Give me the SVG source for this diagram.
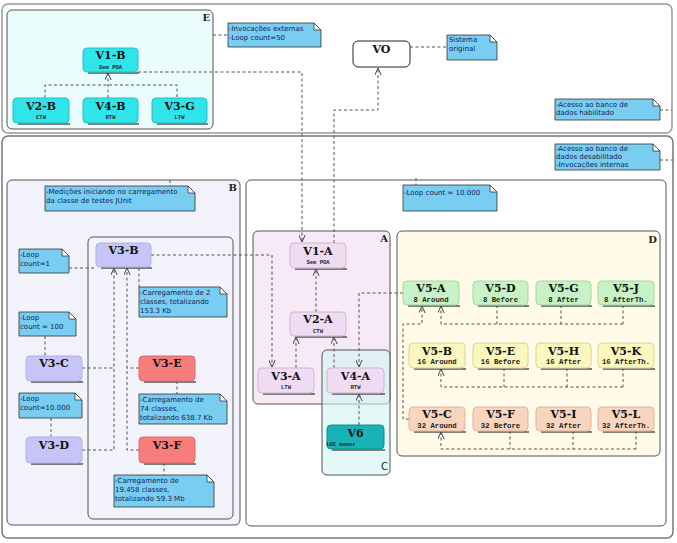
<svg xmlns="http://www.w3.org/2000/svg" width="677" height="543" viewBox="0 0 677 543">
<defs>
<marker id="ar" viewBox="0 0 10 10" refX="10" refY="5" markerWidth="7" markerHeight="7" markerUnits="userSpaceOnUse" orient="auto"><path d="M0,0.5 L10,5 L0,9.5" fill="none" stroke="#444" stroke-width="1.4"/></marker>
<style>
.pk{stroke:#555;stroke-width:1}
.pl{font-family:"DejaVu Serif",serif;font-weight:bold;font-size:10px;fill:#222;text-anchor:end}
.t{font-family:"DejaVu Serif",serif;font-weight:bold;font-size:11px;text-anchor:middle;fill:#111}
.s{font-family:"Liberation Mono",monospace;font-weight:bold;font-size:7.3px;text-anchor:middle;fill:#222}
.ss{font-family:"Liberation Mono",monospace;font-weight:bold;font-size:5.5px;text-anchor:middle;fill:#222}
.n{font-family:"DejaVu Sans",sans-serif;font-size:7px;fill:#14245a}
.nb{fill:#78cdf0;stroke:#333;stroke-width:0.8}
.nf{fill:#fff;stroke:#333;stroke-width:0.8}
.c{fill:none;stroke:#555;stroke-width:1;stroke-dasharray:3,2.5}
.sh{stroke:#555;stroke-width:1.3}
.cy{fill:#30e5ea;stroke:#25bfc2}
.lv{fill:#c5c5f7;stroke:#b0b0e6}
.rd{fill:#f77c7c;stroke:#e06a6a}
.pa{fill:#f0dcf2;stroke:#cdb6d0}
.tl{fill:#17b3b6;stroke:#0e8f91}
.gr{fill:#c6f2c6;stroke:#a5d6a5}
.yl{fill:#fcf8bd;stroke:#d8d49a}
.or{fill:#f9d5c0;stroke:#dab6a2}
</style>
</defs>

<!-- outer frames -->
<rect x="2" y="4" width="670" height="129" rx="6" fill="#fff" stroke="#999" stroke-width="1.5"/>
<rect x="2" y="136" width="671" height="402" rx="6" fill="#fff" stroke="#777" stroke-width="1.5"/>

<!-- packages -->
<g id="pkgE"><rect class="pk" x="7" y="10" width="206" height="119" rx="5" fill="#eafcfb"/><text class="pl" x="210" y="21">E</text></g>
<g id="pkgB"><rect class="pk" x="7" y="180" width="233" height="345" rx="5" fill="#f2f2fb"/><text class="pl" x="237" y="191">B</text></g>
<g id="pkgB2"><rect class="pk" x="88" y="237" width="145" height="282" rx="5" fill="#f3f3fc"/></g>
<g id="pkgMain"><rect class="pk" x="246" y="180" width="420" height="346" rx="5" fill="#fff"/></g>
<g id="pkgA"><rect class="pk" x="253" y="231" width="137" height="173" rx="5" fill="#f6eaf6"/><text class="pl" x="388" y="242">A</text></g>
<g id="pkgC"><rect class="pk" x="322" y="350" width="68" height="125" rx="5" fill="#d4f3f3" fill-opacity="0.6"/><text class="pl" x="388" y="470" style="font-family:'DejaVu Sans',sans-serif;font-weight:normal">C</text></g>
<g id="pkgD"><rect class="pk" x="397" y="231" width="263" height="225" rx="5" fill="#fffbe8"/><text class="pl" x="657" y="243">D</text></g>

<!-- connectors -->
<g id="connectors">
<path class="c" d="M213,35 H228"/>
<path class="c" d="M138,72 H302 V242" marker-end="url(#ar)"/>
<path class="c" d="M334,243 V110 H378 V68" marker-end="url(#ar)"/>
<path class="c" d="M410,47 H447"/>
<path class="c" d="M660,110 H672"/>
<path class="c" d="M660,160 H673"/>
<path class="c" d="M170,180 V186"/>
<path class="c" d="M416,178 V185"/>
<path class="c" d="M45,98 V85 H177 V98"/>
<path class="c" d="M108,98 V73" marker-end="url(#ar)"/>
<path class="c" d="M151,255 H272 V367" marker-end="url(#ar)"/>
<path class="c" d="M69,268 H96"/>
<path class="c" d="M82,368 H114"/>
<path class="c" d="M82,450 H114 V268" marker-end="url(#ar)"/>
<path class="c" d="M139,368 H127"/>
<path class="c" d="M139,450 H127 V268" marker-end="url(#ar)"/>
<path class="c" d="M139,268 V287"/>
<path class="c" d="M45,336 V356"/>
<path class="c" d="M51,418 V437"/>
<path class="c" d="M177,381 V394"/>
<path class="c" d="M164,463 V475"/>
<path class="c" d="M316,312 V269" marker-end="url(#ar)"/>
<path class="c" d="M296,368 V337" marker-end="url(#ar)"/>
<path class="c" d="M334,368 V337" marker-end="url(#ar)"/>
<path class="c" d="M403,293 H359 V367" marker-end="url(#ar)"/>
<path class="c" d="M359,425 V394" marker-end="url(#ar)"/>
<path class="c" d="M409,419 H403 V324 H422 V306" marker-end="url(#ar)"/>
<path class="c" d="M497,305 V324 M561,305 V324 M623,305 V324"/>
<path class="c" d="M623,324 H441 V306" marker-end="url(#ar)"/>
<path class="c" d="M504,368 V387 M567,368 V387 M623,368 V387"/>
<path class="c" d="M623,387 H441 V369" marker-end="url(#ar)"/>
<path class="c" d="M510,431 V449 M573,431 V449 M636,431 V449"/>
<path class="c" d="M636,449 H441 V432" marker-end="url(#ar)"/>
</g>

<!-- notes -->
<g id="note1"><path class="nb" d="M228,23 H314 L321,30 V47 H228 Z"/><path class="nf" d="M314,23 V30 H321 Z"/><text class="n" x="229" y="30.5">-Invocações externas</text><text class="n" x="229" y="39.5">-Loop count=50</text></g>
<g id="note2"><path class="nb" d="M447,35 H490 L497,42 V60 H447 Z"/><path class="nf" d="M490,35 V42 H497 Z"/><text class="n" x="449" y="42">Sistema</text><text class="n" x="449" y="50.5">original</text></g>
<g id="note3"><path class="nb" d="M555,99 H653 L660,106 V120 H555 Z"/><path class="nf" d="M653,99 V106 H660 Z"/><text class="n" x="556" y="106.5">-Acesso ao banco de</text><text class="n" x="556" y="115">dados habilitado</text></g>
<g id="note4"><path class="nb" d="M555,144 H653 L660,151 V170 H555 Z"/><path class="nf" d="M653,144 V151 H660 Z"/><text class="n" x="556" y="150.5">-Acesso ao banco de</text><text class="n" x="556" y="158.5">dados desabilitado</text><text class="n" x="556" y="167">-Invocações internas</text></g>
<g id="note5"><path class="nb" d="M45,186 H188 L195,193 V211 H45 Z"/><path class="nf" d="M188,186 V193 H195 Z"/><text class="n" x="46" y="194">-Medições iniciando no carregamento</text><text class="n" x="46" y="202.5">da classe de testes JUnit</text></g>
<g id="note6"><path class="nb" d="M19,249 H62 L69,256 V273 H19 Z"/><path class="nf" d="M62,249 V256 H69 Z"/><text class="n" x="20" y="257">-Loop</text><text class="n" x="20" y="265.5">count=1</text></g>
<g id="note7"><path class="nb" d="M139,287 H220 L227,294 V317 H139 Z"/><path class="nf" d="M220,287 V294 H227 Z"/><text class="n" x="140" y="294.5">-Carregamento de 2</text><text class="n" x="140" y="303.5">classes, totalizando</text><text class="n" x="140" y="312.5">153.3 Kb</text></g>
<g id="note8"><path class="nb" d="M19,312 H69 L76,319 V336 H19 Z"/><path class="nf" d="M69,312 V319 H76 Z"/><text class="n" x="20" y="320">-Loop</text><text class="n" x="20" y="328.5">count = 100</text></g>
<g id="note9"><path class="nb" d="M139,394 H220 L227,401 V424 H139 Z"/><path class="nf" d="M220,394 V401 H227 Z"/><text class="n" x="140" y="401.5">-Carregamento de</text><text class="n" x="140" y="410.5">74 classes,</text><text class="n" x="140" y="419.5">totalizando 638.7 Kb</text></g>
<g id="note10"><path class="nb" d="M19,393 H75 L82,400 V418 H19 Z"/><path class="nf" d="M75,393 V400 H82 Z"/><text class="n" x="20" y="401">-Loop</text><text class="n" x="20" y="409.5">count=10.000</text></g>
<g id="note11"><path class="nb" d="M114,475 H207 L214,482 V507 H114 Z"/><path class="nf" d="M207,475 V482 H214 Z"/><text class="n" x="115" y="483">-Carregamento de</text><text class="n" x="115" y="492">19.458 classes,</text><text class="n" x="115" y="501">totalizando 59.3 Mb</text></g>
<g id="note12"><path class="nb" d="M403,185 H490 L497,192 V211 H403 Z"/><path class="nf" d="M490,185 V192 H497 Z"/><text class="n" x="404" y="194.5">-Loop count = 10.000</text></g>

<!-- nodes -->
<g id="V1-B"><line class="sh" x1="88" y1="73" x2="139" y2="73"/><rect class="cy" x="83" y="48" width="55" height="24" rx="4"/><text class="t" x="110.5" y="59">V1-B</text><text class="ss" x="110.5" y="68.5">Sem POA</text></g>
<g id="V2-B"><line class="sh" x1="18" y1="124" x2="70" y2="124"/><rect class="cy" x="13" y="98" width="56" height="25" rx="4"/><text class="t" x="41" y="109.5">V2-B</text><text class="ss" x="41" y="119">CTW</text></g>
<g id="V4-B"><line class="sh" x1="88" y1="124" x2="139" y2="124"/><rect class="cy" x="83" y="98" width="55" height="25" rx="4"/><text class="t" x="110.5" y="109.5">V4-B</text><text class="ss" x="110.5" y="119">RTW</text></g>
<g id="V3-G"><line class="sh" x1="157" y1="124" x2="208" y2="124"/><rect class="cy" x="152" y="98" width="55" height="25" rx="4"/><text class="t" x="179.5" y="109.5">V3-G</text><text class="ss" x="179.5" y="119">LTW</text></g>
<g id="VO"><rect x="353" y="41" width="57" height="26" rx="5" fill="#fff" stroke="#222" stroke-width="1"/><text class="t" x="381.5" y="52.5">VO</text></g>

<g id="V3-B"><line class="sh" x1="101" y1="268" x2="152" y2="268"/><rect class="lv" x="96" y="243" width="55" height="24" rx="4"/><text class="t" x="123.5" y="254">V3-B</text></g>
<g id="V3-C"><line class="sh" x1="31" y1="382" x2="83" y2="382"/><rect class="lv" x="26" y="356" width="56" height="25" rx="4"/><text class="t" x="54" y="367">V3-C</text></g>
<g id="V3-D"><line class="sh" x1="31" y1="464" x2="83" y2="464"/><rect class="lv" x="26" y="437" width="56" height="26" rx="4"/><text class="t" x="54" y="448.5">V3-D</text></g>
<g id="V3-E"><line class="sh" x1="144" y1="382" x2="196" y2="382"/><rect class="rd" x="139" y="356" width="56" height="25" rx="4"/><text class="t" x="167" y="367">V3-E</text></g>
<g id="V3-F"><line class="sh" x1="144" y1="464" x2="196" y2="464"/><rect class="rd" x="139" y="437" width="56" height="26" rx="4"/><text class="t" x="167" y="448.5">V3-F</text></g>

<g id="V1-A"><line class="sh" x1="295" y1="269" x2="347" y2="269"/><rect class="pa" x="290" y="243" width="56" height="25" rx="4"/><text class="t" x="318" y="254.5">V1-A</text><text class="ss" x="318" y="264">Sem POA</text></g>
<g id="V2-A"><line class="sh" x1="295" y1="337" x2="347" y2="337"/><rect class="pa" x="290" y="312" width="56" height="24" rx="4"/><text class="t" x="318" y="323">V2-A</text><text class="ss" x="318" y="332.5">CTW</text></g>
<g id="V3-A"><line class="sh" x1="263" y1="394" x2="315" y2="394"/><rect class="pa" x="258" y="368" width="56" height="25" rx="4"/><text class="t" x="286" y="379.5">V3-A</text><text class="ss" x="286" y="389">LTW</text></g>
<g id="V4-A"><line class="sh" x1="332" y1="394" x2="385" y2="394"/><rect class="pa" x="327" y="368" width="57" height="25" rx="4"/><text class="t" x="355.5" y="379.5">V4-A</text><text class="ss" x="355.5" y="389">RTW</text></g>
<g id="V6"><line class="sh" x1="332" y1="450" x2="385" y2="450"/><rect class="tl" x="327" y="425" width="57" height="24" rx="4"/><text class="t" x="355.5" y="437">V6</text><text class="ss" x="341" y="446">LOC menor</text></g>

<g id="V5-A"><line class="sh" x1="408" y1="306" x2="460" y2="306"/><rect class="gr" x="403" y="281" width="56" height="24" rx="4"/><text class="t" x="431" y="292">V5-A</text><text class="s" x="431" y="301.5">8 Around</text></g>
<g id="V5-D"><line class="sh" x1="478" y1="306" x2="529" y2="306"/><rect class="gr" x="473" y="281" width="55" height="24" rx="4"/><text class="t" x="500.5" y="292">V5-D</text><text class="s" x="500.5" y="301.5">8 Before</text></g>
<g id="V5-G"><line class="sh" x1="541" y1="306" x2="592" y2="306"/><rect class="gr" x="536" y="281" width="55" height="24" rx="4"/><text class="t" x="563.5" y="292">V5-G</text><text class="s" x="563.5" y="301.5">8 After</text></g>
<g id="V5-J"><line class="sh" x1="603" y1="306" x2="655" y2="306"/><rect class="gr" x="598" y="281" width="56" height="24" rx="4"/><text class="t" x="626" y="292">V5-J</text><text class="s" x="626" y="301.5">8 AfterTh.</text></g>

<g id="V5-B"><line class="sh" x1="414" y1="369" x2="466" y2="369"/><rect class="yl" x="409" y="343" width="56" height="25" rx="4"/><text class="t" x="437" y="354.5">V5-B</text><text class="s" x="437" y="364">16 Around</text></g>
<g id="V5-E"><line class="sh" x1="478" y1="369" x2="529" y2="369"/><rect class="yl" x="473" y="343" width="55" height="25" rx="4"/><text class="t" x="500.5" y="354.5">V5-E</text><text class="s" x="500.5" y="364">16 Before</text></g>
<g id="V5-H"><line class="sh" x1="541" y1="369" x2="592" y2="369"/><rect class="yl" x="536" y="343" width="55" height="25" rx="4"/><text class="t" x="563.5" y="354.5">V5-H</text><text class="s" x="563.5" y="364">16 After</text></g>
<g id="V5-K"><line class="sh" x1="603" y1="369" x2="655" y2="369"/><rect class="yl" x="598" y="343" width="56" height="25" rx="4"/><text class="t" x="626" y="354.5">V5-K</text><text class="s" x="626" y="364">16 AfterTh.</text></g>

<g id="V5-C"><line class="sh" x1="414" y1="432" x2="466" y2="432"/><rect class="or" x="409" y="407" width="56" height="24" rx="4"/><text class="t" x="437" y="418">V5-C</text><text class="s" x="437" y="427.5">32 Around</text></g>
<g id="V5-F"><line class="sh" x1="478" y1="432" x2="529" y2="432"/><rect class="or" x="473" y="407" width="55" height="24" rx="4"/><text class="t" x="500.5" y="418">V5-F</text><text class="s" x="500.5" y="427.5">32 Before</text></g>
<g id="V5-I"><line class="sh" x1="541" y1="432" x2="592" y2="432"/><rect class="or" x="536" y="407" width="55" height="24" rx="4"/><text class="t" x="563.5" y="418">V5-I</text><text class="s" x="563.5" y="427.5">32 After</text></g>
<g id="V5-L"><line class="sh" x1="603" y1="432" x2="655" y2="432"/><rect class="or" x="598" y="407" width="56" height="24" rx="4"/><text class="t" x="626" y="418">V5-L</text><text class="s" x="626" y="427.5">32 AfterTh.</text></g>
</svg>
